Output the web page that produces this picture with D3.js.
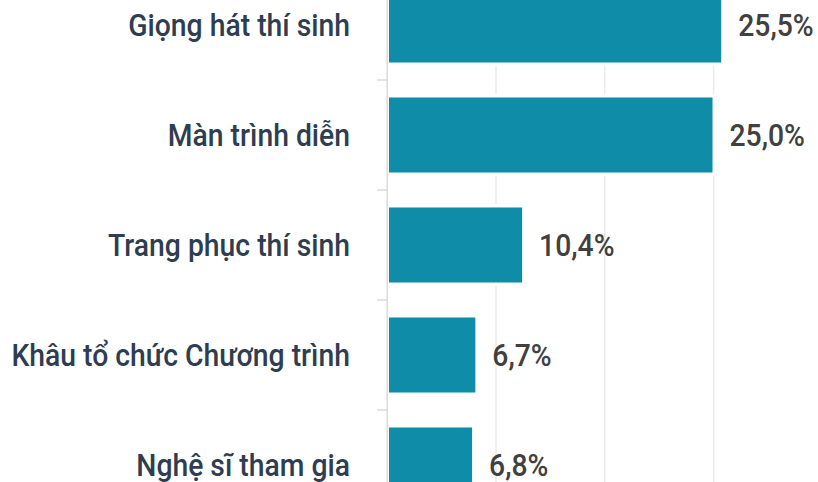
<!DOCTYPE html>
<html>
<head>
<meta charset="utf-8">
<script src="https://cdn.jsdelivr.net/npm/d3@7"></script>
<style>
  html, body { margin: 0; padding: 0; background: #fff; }
  svg { display: block; }
</style>
</head>
<body>
<svg id="chart" width="818" height="482"></svg>
<script>
// ---- data ----
const categories = ["Giọng hát thí sinh", "Màn trình diễn", "Trang phục thí sinh", "Khâu tổ chức Chương trình", "Nghệ sĩ tham gia"];
const barValues = [30.7, 29.9, 12.4, 8.1, 7.8];
const valueLabels = ["25,5%", "25,0%", "10,4%", "6,7%", "6,8%"];
const gridTicks = [10, 20, 30];

const W = 818, H = 482;
const svg = d3.select("#chart");
const FONT = "Roboto, 'Noto Sans', sans-serif";
const SX = 0.885; // condensed look

const x = d3.scaleLinear().domain([0, 30]).range([387.2, 387.2 + 326.4]);
const y = d3.scaleBand().domain(categories).range([-30, 520]).paddingInner(0.318).paddingOuter(0.159);

// gridlines
svg.append("g").selectAll("line").data(gridTicks).join("line")
  .attr("x1", d => x(d)).attr("x2", d => x(d))
  .attr("y1", 0).attr("y2", H)
  .attr("stroke", "#ebebeb").attr("stroke-width", 1.5);

const data = categories.map((c, i) => ({ c, v: barValues[i], label: valueLabels[i] }));

// white halo behind bars (hides gridlines near bars)
const halo = 3.5;
svg.append("g").selectAll("rect").data(data).join("rect")
  .attr("x", x(0) - halo)
  .attr("y", d => y(d.c) - halo)
  .attr("width", d => x(d.v) - x(0) + 2 * halo)
  .attr("height", y.bandwidth() + 2 * halo)
  .attr("fill", "#fff");

// bars
svg.append("g").selectAll("rect").data(data).join("rect")
  .attr("x", x(0) + 1.8)
  .attr("y", d => y(d.c))
  .attr("width", d => x(d.v) - x(0) - 1.8)
  .attr("height", y.bandwidth())
  .attr("fill", "#0e8ca8");

// y axis (line + ticks between categories)
const boundaries = categories.slice(1).map(c => y(c) - y.step() * y.paddingInner() / 2);
svg.append("line")
  .attr("x1", x(0)).attr("x2", x(0)).attr("y1", 0).attr("y2", H)
  .attr("stroke", "#dcdcdc").attr("stroke-width", 1.6);
svg.append("g").selectAll("line").data(boundaries).join("line")
  .attr("x1", x(0) - 10).attr("x2", x(0))
  .attr("y1", d => d).attr("y2", d => d)
  .attr("stroke", "#dcdcdc").attr("stroke-width", 1.6);

// category labels
svg.append("g").selectAll("text").data(data).join("text")
  .attr("transform", d => `translate(350,${y(d.c) + y.bandwidth() / 2}) scale(${SX},1)`)
  .attr("dy", "0.34em")
  .attr("text-anchor", "end")
  .attr("font-family", FONT)
  .attr("font-weight", 500)
  .attr("font-size", 32)
  .attr("fill", "#2e3d50")
  .text(d => d.c);

// value labels
svg.append("g").selectAll("text").data(data).join("text")
  .attr("transform", d => `translate(${x(d.v) + 17},${y(d.c) + y.bandwidth() / 2}) scale(${SX},1)`)
  .attr("dy", "0.34em")
  .attr("font-family", FONT)
  .attr("font-weight", 500)
  .attr("font-size", 32)
  .attr("fill", "#404040")
  .text(d => d.label);
</script>
</body>
</html>
